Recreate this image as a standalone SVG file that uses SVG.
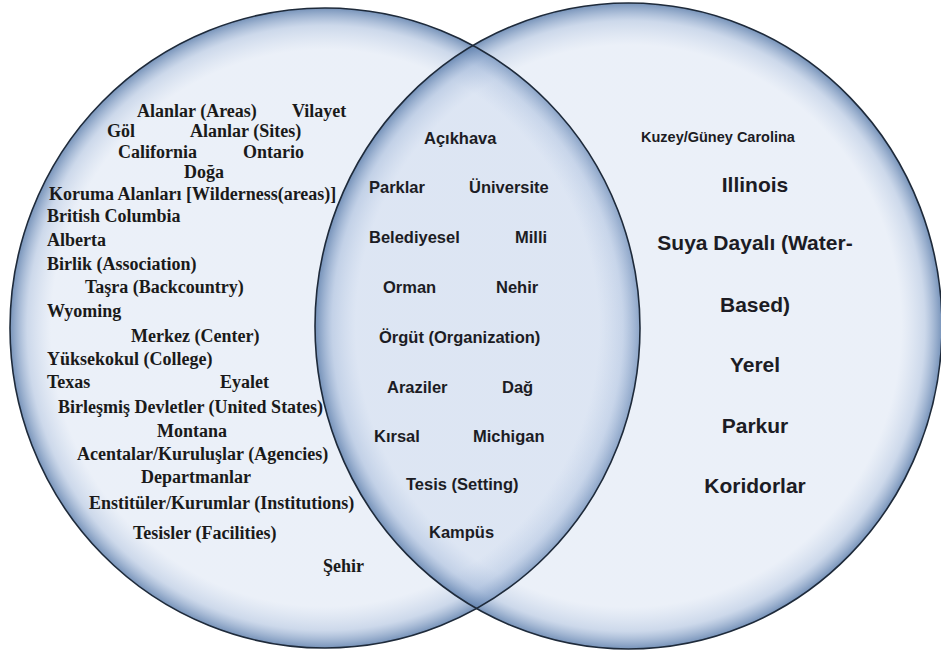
<svg xmlns="http://www.w3.org/2000/svg" width="941" height="654" viewBox="0 0 941 654">
<style>
.outline{fill:none;stroke:#1e2a3a;stroke-width:1.6}
.l{font-family:"Liberation Serif","Times New Roman",serif;font-weight:bold;font-size:18px;fill:#1a1a1a}
.m{font-family:"Liberation Sans",Arial,sans-serif;font-weight:bold;font-size:16.5px;fill:#1c1c24}
.r{font-family:"Liberation Sans",Arial,sans-serif;font-weight:bold;font-size:21px;fill:#1c1c24;text-anchor:middle}
.rs{font-family:"Liberation Sans",Arial,sans-serif;font-weight:bold;font-size:14.5px;fill:#1c1c24}
</style>
<defs>
<radialGradient id="setFill" cx="50%" cy="50%" r="50%">
<stop offset="0" stop-color="#bccde8" stop-opacity="0.3"/>
<stop offset="0.87" stop-color="#bccde8" stop-opacity="0.3"/>
<stop offset="0.945" stop-color="#9ab2d6" stop-opacity="0.5"/>
<stop offset="1" stop-color="#5f80ad" stop-opacity="0.85"/>
</radialGradient>
</defs>
<rect width="941" height="654" fill="#ffffff"/>
<g id="set-left">
<ellipse cx="325" cy="328" rx="315" ry="320" fill="url(#setFill)"/>
</g>
<g id="set-right">
<ellipse cx="628.5" cy="326" rx="313.5" ry="323" fill="url(#setFill)"/>
</g>
<g id="outlines">
<ellipse class="outline" cx="325" cy="328" rx="315" ry="320"/>
<ellipse class="outline" cx="628.5" cy="326" rx="313.5" ry="323"/>
</g>
<g id="left-labels">
<text class="l" x="137" y="117">Alanlar (Areas)</text>
<text class="l" x="292" y="117">Vilayet</text>
<text class="l" x="107" y="137">Göl</text>
<text class="l" x="190" y="137">Alanlar (Sites)</text>
<text class="l" x="118" y="158">California</text>
<text class="l" x="243" y="158">Ontario</text>
<text class="l" x="184" y="178">Doğa</text>
<text class="l" x="49" y="200">Koruma Alanları [Wilderness(areas)]</text>
<text class="l" x="47" y="222">British Columbia</text>
<text class="l" x="47" y="246">Alberta</text>
<text class="l" x="47" y="270">Birlik (Association)</text>
<text class="l" x="85" y="293">Taşra (Backcountry)</text>
<text class="l" x="47" y="317">Wyoming</text>
<text class="l" x="131" y="342">Merkez (Center)</text>
<text class="l" x="47" y="365">Yüksekokul (College)</text>
<text class="l" x="47" y="388">Texas</text>
<text class="l" x="220" y="388">Eyalet</text>
<text class="l" x="58" y="413">Birleşmiş Devletler (United States)</text>
<text class="l" x="157" y="437">Montana</text>
<text class="l" x="77" y="460">Acentalar/Kuruluşlar (Agencies)</text>
<text class="l" x="141" y="483">Departmanlar</text>
<text class="l" x="89" y="509">Enstitüler/Kurumlar (Institutions)</text>
<text class="l" x="133" y="539">Tesisler (Facilities)</text>
<text class="l" x="323" y="572">Şehir</text>
</g>
<g id="middle-labels">
<text class="m" x="424" y="144">Açıkhava</text>
<text class="m" x="369" y="193">Parklar</text>
<text class="m" x="469" y="193">Üniversite</text>
<text class="m" x="369" y="243">Belediyesel</text>
<text class="m" x="515" y="243">Milli</text>
<text class="m" x="383" y="293">Orman</text>
<text class="m" x="496" y="293">Nehir</text>
<text class="m" x="379" y="343">Örgüt (Organization)</text>
<text class="m" x="387" y="393">Araziler</text>
<text class="m" x="502" y="393">Dağ</text>
<text class="m" x="374" y="442">Kırsal</text>
<text class="m" x="473" y="442">Michigan</text>
<text class="m" x="406" y="490">Tesis (Setting)</text>
<text class="m" x="429" y="538">Kampüs</text>
</g>
<g id="right-labels">
<text class="rs" x="641" y="142">Kuzey/Güney Carolina</text>
<text class="r" x="755" y="192">Illinois</text>
<text class="r" x="755" y="250">Suya Dayalı (Water-</text>
<text class="r" x="755" y="312">Based)</text>
<text class="r" x="755" y="372">Yerel</text>
<text class="r" x="755" y="433">Parkur</text>
<text class="r" x="755" y="493">Koridorlar</text>
</g>
</svg>
